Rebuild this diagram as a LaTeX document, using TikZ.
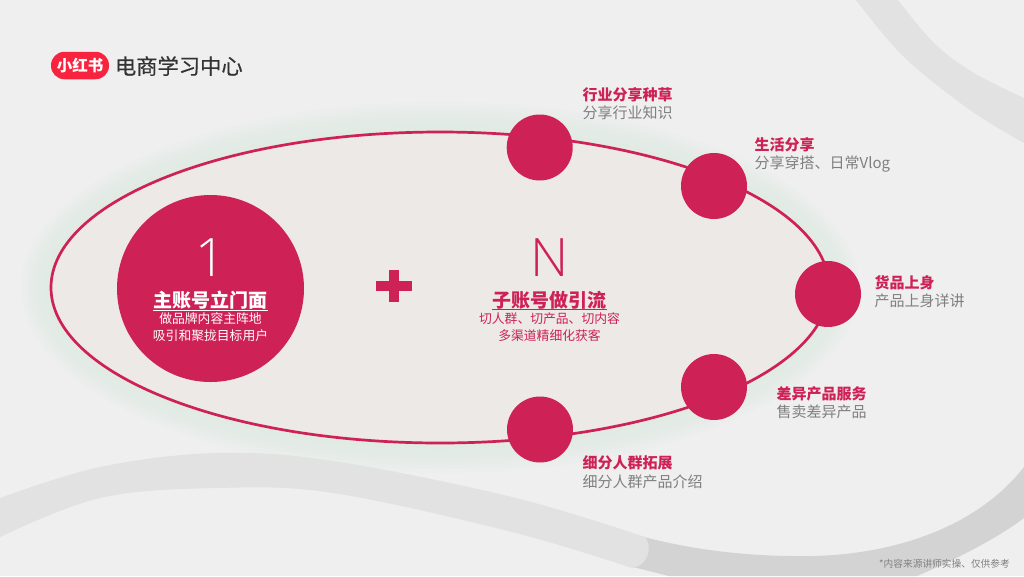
\documentclass[tikz,border=0pt]{standalone}
\usepackage{fontspec}
\usetikzlibrary{shapes.geometric}
\setmainfont{Noto Sans CJK SC}
\newfontfamily\thinfont{Open Sans Light}
\newfontfamily\medfont[FakeBold=0.5]{Noto Sans CJK SC}
\definecolor{bgc}{HTML}{EFEFEF}
\definecolor{bandc}{HTML}{E2E2E2}
\definecolor{banddark}{HTML}{D3D3D3}
\definecolor{rosec}{HTML}{CE2155}
\definecolor{logoc}{HTML}{F8243F}
\definecolor{inner}{HTML}{ECE9E7}
\definecolor{glow}{HTML}{DCEBE0}
\definecolor{greyt}{HTML}{7F7F7F}
\tikzset{
  x=1pt,y=-1pt,
  dotn/.style={circle,fill=rosec,minimum size=66pt,inner sep=0pt},
  head/.style={anchor=west,inner sep=0pt,text=rosec,font=\fontsize{15}{15}\selectfont\bfseries},
  sub/.style={anchor=west,inner sep=0pt,text=greyt,font=\fontsize{15}{15}\selectfont},
  bigt/.style={inner sep=0pt,font=\fontsize{19}{19}\selectfont\bfseries},
  smallt/.style={inner sep=0pt,font=\fontsize{12.8}{13}\selectfont},
  thin glyph/.style={inner sep=0pt,font=\thinfont\fontsize{53}{53}\selectfont},
}
\begin{document}
\begin{tikzpicture}
\useasboundingbox (0,0) rectangle (1024,576);
\fill[bgc] (0,0) rectangle (1024,576);
% top right band
\fill[bandc] plot[smooth,tension=.6] coordinates {(856,0) (904,57) (970,110) (1024,143)} -- plot[smooth,tension=.6] coordinates {(1024,98) (974,73) (934,43) (898,0)} -- cycle;
% bottom dark band
\fill[banddark] (630,533) .. controls (680,548) and (740,556) .. (795,556) .. controls (885,558) and (975,530) .. (1024,467) -- (1024,518) .. controls (995,540) and (950,562) .. (917,576) -- (669,576) -- (625,565) -- cycle;
% bottom light band
\fill[bandc] plot[smooth,tension=.6] coordinates {(0,498) (100,467) (217,453) (333,461) (512,497) (645,537)} .. controls (652,545) and (650,565) .. (632,568) -- plot[smooth,tension=.6] coordinates {(632,568) (512,532) (333,493) (217,488) (100,498) (0,537)} -- cycle;
% glow
\foreach \g in {30,26,22,18,14,10,6}
  \fill[glow,opacity=.13] (440,287.5) ellipse ({389+\g} and {155.5+\g});
% orbit
\node[ellipse,draw=rosec,fill=inner,line width=2.7pt,minimum width=778pt,minimum height=311pt,inner sep=0pt] (orbit) at (440,287.5) {};
% logo
\node[fill=logoc,rounded corners=13.5pt,minimum width=58pt,minimum height=27.5pt,inner sep=0pt,text=white,font=\fontsize{15.5}{15.5}\selectfont\bfseries] (logo) at (80,65.5) {小红书};
\node[anchor=west,inner sep=0pt,text=black!80,font=\medfont\fontsize{21.3}{22}\selectfont] (title) at (114.7,66) {电商学习中心};
% big circle
\node[circle,fill=rosec,minimum size=187pt,inner sep=0pt] (main) at (210.5,288.5) {};
\node[thin glyph,text=white] (one) at (210.5,258) {1};
\node[bigt,text=white] (mainh) at (210.5,300) {主账号立门面};
\draw[white,line width=.8pt] (153,310.3) -- (268,310.3);
\node[smallt,text=white] (mainA) at (210.5,319) {做品牌内容主阵地};
\node[smallt,text=white] (mainB) at (210.5,336) {吸引和聚拢目标用户};
% plus
\fill[rosec] (376,281) rectangle (412,291);
\fill[rosec] (388.5,270) rectangle (399,302);
% N
\node[thin glyph,text=rosec] (n) at (550,257.5) {N};
\node[bigt,text=rosec] (subh) at (549.5,300) {子账号做引流};
\draw[rosec,line width=.8pt] (492,309.5) -- (607,309.5);
\node[smallt,text=rosec] (subA) at (549.5,319) {切人群、切产品、切内容};
\node[smallt,text=rosec] (subB) at (549.5,336) {多渠道精细化获客};
% dots
\node[dotn] (d1) at (539.7,147.5) {};
\node[dotn] (d2) at (714,186) {};
\node[dotn] (d3) at (828,294) {};
\node[dotn] (d4) at (714,387) {};
\node[dotn] (d5) at (540,429.5) {};
% labels
\node[head] (h1) at (582.5,94.7) {行业分享种草};
\node[sub] (s1) at (582.5,112.7) {分享行业知识};
\node[head] (h2) at (754.5,144.7) {生活分享};
\node[sub] (s2) at (754.5,164.3) {分享穿搭、日常Vlog};
\node[head] (h3) at (874.5,282.7) {货品上身};
\node[sub] (s3) at (874.5,300.7) {产品上身详讲};
\node[head] (h4) at (776.5,393.7) {差异产品服务};
\node[sub] (s4) at (776.5,411.7) {售卖差异产品};
\node[head] (h5) at (582.5,462.7) {细分人群拓展};
\node[sub] (s5) at (582.5,481.7) {细分人群产品介绍};
\node[anchor=east,inner sep=0pt,text=black!50,font=\fontsize{9.7}{10}\selectfont] (foot) at (1010,563.5) {*内容来源讲师实操、仅供参考};
\end{tikzpicture}
\end{document}
